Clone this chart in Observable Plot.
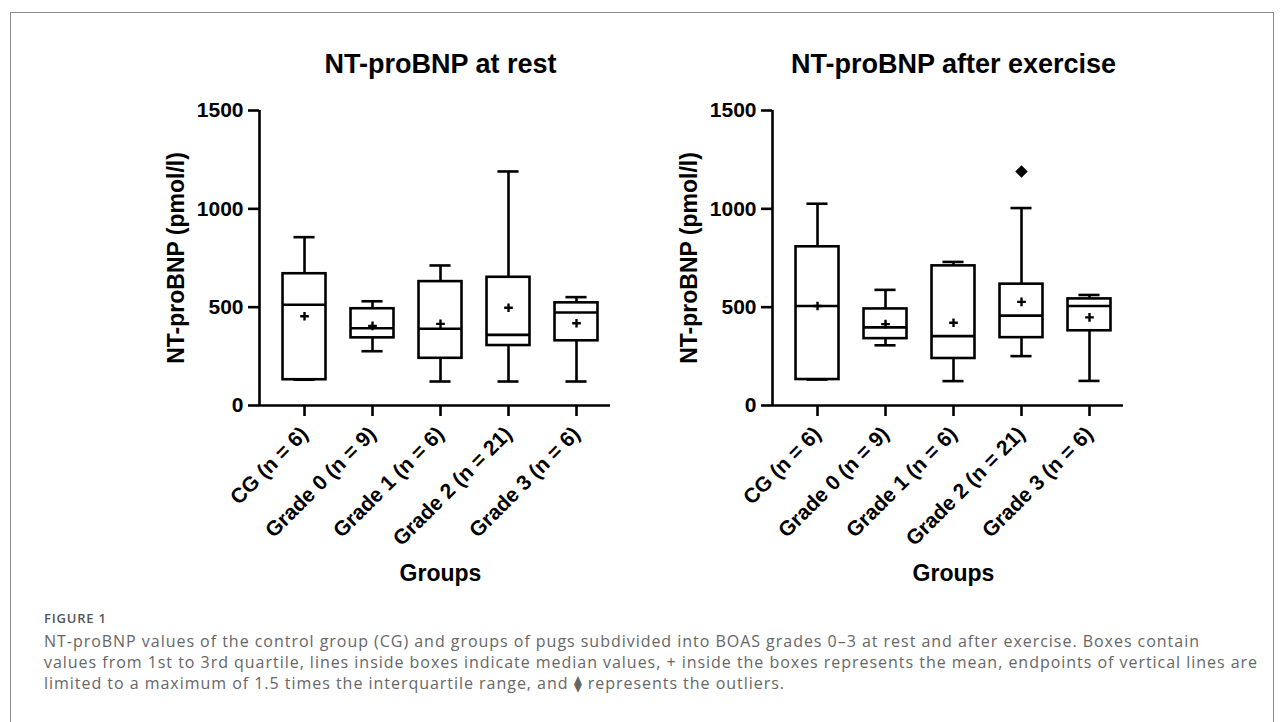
<!DOCTYPE html>
<html><head><meta charset="utf-8">
<script src="https://cdn.jsdelivr.net/npm/d3@7"></script>
<script src="https://cdn.jsdelivr.net/npm/@observablehq/plot@0.6"></script>
<style>
body{margin:0;background:#fff;width:1282px;height:722px;overflow:hidden;position:relative}
#frame{position:absolute;left:10px;top:12px;width:1262px;height:760px;border:1px solid #8a8a8a;border-bottom:none}
.panel{position:absolute;top:0;width:641px}
#figlab{position:absolute;left:44px;top:610px;font-family:"Open Sans",sans-serif;font-weight:600;font-size:13px;letter-spacing:0.8px;color:#555;line-height:16px;white-space:nowrap}
#cap{position:absolute;left:44px;top:631px;font-family:"Open Sans",sans-serif;font-size:16px;letter-spacing:0.97px;color:#666;line-height:21px;white-space:nowrap}
</style></head><body>
<div id="frame"></div>
<div id="p1" class="panel" style="left:0"></div>
<div id="p2" class="panel" style="left:513px"></div>
<div id="figlab">FIGURE 1</div>
<div id="cap">
<div>NT-proBNP values of the control group (CG) and groups of pugs subdivided into BOAS grades 0–3 at rest and after exercise. Boxes contain</div>
<div>values from 1st to 3rd quartile, lines inside boxes indicate median values, + inside the boxes represents the mean, endpoints of vertical lines are</div>
<div>limited to a maximum of 1.5 times the interquartile range, and ⧫ represents the outliers.</div>
</div>
<script>
const groups = ["CG (n = 6)", "Grade 0 (n = 9)", "Grade 1 (n = 6)", "Grade 2 (n = 21)", "Grade 3 (n = 6)"];
const yTicks = [0, 500, 1000, 1500];

const restMin    = [131, 276, 122, 122, 122];
const restQ1     = [131, 344, 240, 305, 329];
const restMedian = [512, 393, 390, 359, 473];
const restQ3     = [670, 492, 630, 652, 522];
const restMax    = [856, 530, 712, 1190, 551];
const restMean   = [454, 405, 415, 497, 418];

const exMin    = [132, 306, 124, 251, 125];
const exQ1     = [132, 340, 239, 345, 380];
const exMedian = [506, 397, 353, 457, 506];
const exQ3     = [807, 491, 710, 617, 542];
const exMax    = [1026, 588, 730, 1004, 562];
const exMean   = [506, 414, 421, 527, 448];
const exOutlierGroup = ["Grade 2 (n = 21)"];
const exOutlierValue = [1190];

const restOutlierGroup = [];
const restOutlierValue = [];

const FONT = '"Liberation Sans", Arial, Helvetica, sans-serif';
const XMIN = -0.662, XMAX = 4.5;
const BOX = 0.316, CAP = 0.155;

function panel(title, mins, q1s, meds, q3s, maxs, means, outG, outV) {
  const rows = groups.map((g, i) => ({i, g, min: mins[i], q1: q1s[i], med: meds[i], q3: q3s[i], max: maxs[i], mean: means[i]}));
  const outs = outG.map((g, k) => ({i: groups.indexOf(g), v: outV[k]}));
  const sw = 2.6;
  return Plot.plot({
    width: 641, height: 600,
    marginLeft: 259, marginRight: 31, marginTop: 110, marginBottom: 195,
    style: {fontFamily: FONT, fontWeight: "bold", fontSize: "21px", color: "black", background: "transparent", overflow: "visible"},
    x: {type: "linear", domain: [XMIN, XMAX]},
    y: {domain: [0, 1500]},
    marks: [
      Plot.ruleY([0], {stroke: "black", strokeWidth: sw}),
      Plot.ruleX([XMIN], {y1: 0, y2: 1500, stroke: "black", strokeWidth: sw}),
      Plot.ruleX(rows, {x: "i", y1: "q3", y2: "max", stroke: "black", strokeWidth: sw}),
      Plot.ruleX(rows, {x: "i", y1: "min", y2: "q1", stroke: "black", strokeWidth: sw}),
      Plot.ruleY(rows, {y: "max", x1: d => d.i - CAP, x2: d => d.i + CAP, stroke: "black", strokeWidth: sw}),
      Plot.ruleY(rows, {y: "min", x1: d => d.i - CAP, x2: d => d.i + CAP, stroke: "black", strokeWidth: sw}),
      Plot.rect(rows, {x1: d => d.i - BOX, x2: d => d.i + BOX, y1: "q1", y2: "q3", fill: "white", stroke: "black", strokeWidth: sw}),
      Plot.ruleY(rows, {y: "med", x1: d => d.i - BOX, x2: d => d.i + BOX, stroke: "black", strokeWidth: sw}),
      Plot.dot(rows, {x: "i", y: "mean", symbol: "plus", r: 2.9, stroke: "black", strokeWidth: 2.4}),
      Plot.dot(outs, {x: "i", y: "v", symbol: "diamond2", r: 5.6, fill: "black", stroke: "none"}),
      Plot.axisY({ticks: yTicks, tickFormat: d => String(d), tickSize: 11, tickPadding: 5, label: null, strokeWidth: sw, fontSize: 21, fontWeight: "bold"}),
      Plot.axisX({ticks: [0, 1, 2, 3, 4], tickFormat: i => groups[i], tickSize: 11, tickPadding: 14, tickRotate: -45, label: null, strokeWidth: sw, fontSize: 21, fontWeight: "bold"}),
      Plot.text(["NT-proBNP (pmol/l)"], {text: d => d, frameAnchor: "left", textAnchor: "middle", lineAnchor: "middle", dx: -83, rotate: -90, fontSize: 23, fontWeight: "bold"}),
      Plot.text([title], {text: d => d, x: () => 2, frameAnchor: "top", textAnchor: "middle", lineAnchor: "middle", dy: -46, fontSize: 27, fontWeight: "bold"}),
      Plot.text(["Groups"], {text: d => d, x: () => 2, frameAnchor: "bottom", textAnchor: "middle", lineAnchor: "middle", dy: 168, fontSize: 23, fontWeight: "bold"})
    ]
  });
}

document.getElementById("p1").appendChild(panel("NT-proBNP at rest", restMin, restQ1, restMedian, restQ3, restMax, restMean, restOutlierGroup, restOutlierValue));
document.getElementById("p2").appendChild(panel("NT-proBNP after exercise", exMin, exQ1, exMedian, exQ3, exMax, exMean, exOutlierGroup, exOutlierValue));
</script>
</body></html>
